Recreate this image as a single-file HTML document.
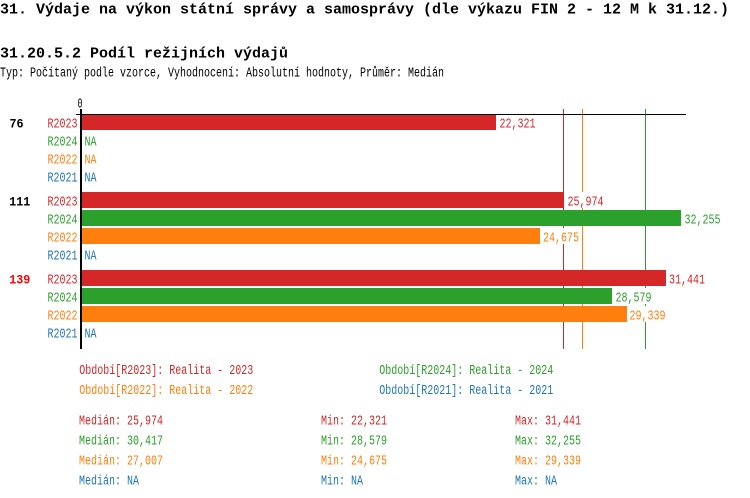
<!DOCTYPE html>
<html><head><meta charset="utf-8"><style>
html,body{margin:0;padding:0;background:#fff;}
svg{display:block;}
text{font-family:"Liberation Mono","DejaVu Sans Mono",monospace;}
.s{font-size:13.5px;}
.b{font-size:15px;font-weight:bold;}
.g{font-size:13px;font-weight:bold;}
</style></head><body>
<svg width="750" height="498" viewBox="0 0 750 498" xmlns="http://www.w3.org/2000/svg">
<text class="b" x="0" y="13.5" textLength="729" lengthAdjust="spacingAndGlyphs">31. Výdaje na výkon státní správy a samosprávy (dle výkazu FIN 2 - 12 M k 31.12.)</text>
<text class="b" x="0" y="57.3" textLength="288" lengthAdjust="spacingAndGlyphs">31.20.5.2 Podíl režijních výdajů</text>
<text class="s" x="0" y="76.3" textLength="444" lengthAdjust="spacingAndGlyphs">Typ: Počítaný podle vzorce, Vyhodnocení: Absolutní hodnoty, Průměr: Medián</text>

<!-- median lines (behind bars) -->
<rect x="563" y="109" width="1" height="240" fill="#d62728"/>
<rect x="582" y="109" width="1" height="240" fill="#ff7f0e"/>
<rect x="645" y="109" width="1" height="240" fill="#2ca02c"/>

<!-- bars -->
<rect x="80" y="114" width="416" height="16" fill="#d62728"/>
<rect x="80" y="192" width="484" height="16" fill="#d62728"/>
<rect x="80" y="210" width="601" height="16" fill="#2ca02c"/>
<rect x="80" y="228" width="460" height="16" fill="#ff7f0e"/>
<rect x="80" y="270" width="586" height="16" fill="#d62728"/>
<rect x="80" y="288" width="532" height="16" fill="#2ca02c"/>
<rect x="80" y="306" width="547" height="16" fill="#ff7f0e"/>

<!-- axes -->
<rect x="76" y="114" width="610" height="1" fill="#000"/>
<rect x="80" y="109" width="2" height="240" fill="#000"/>
<text class="s" x="77.5" y="107.3" textLength="5" lengthAdjust="spacingAndGlyphs">0</text>

<!-- group labels -->
<text class="g" x="9.5" y="127.5" textLength="14" lengthAdjust="spacingAndGlyphs" fill="#000">76</text>
<text class="g" x="9.3" y="205.7" textLength="21" lengthAdjust="spacingAndGlyphs" fill="#000">111</text>
<text class="g" x="9.3" y="283.7" textLength="21" lengthAdjust="spacingAndGlyphs" fill="#ff0000">139</text>

<!-- row labels -->
<text class="s" x="47.5" y="127.5" textLength="30" lengthAdjust="spacingAndGlyphs" fill="#d62728">R2023</text>
<text class="s" x="47.5" y="145.5" textLength="30" lengthAdjust="spacingAndGlyphs" fill="#2ca02c">R2024</text>
<text class="s" x="47.5" y="163.5" textLength="30" lengthAdjust="spacingAndGlyphs" fill="#ff7f0e">R2022</text>
<text class="s" x="47.5" y="181.5" textLength="30" lengthAdjust="spacingAndGlyphs" fill="#1f77b4">R2021</text>
<text class="s" x="47.5" y="205.7" textLength="30" lengthAdjust="spacingAndGlyphs" fill="#d62728">R2023</text>
<text class="s" x="47.5" y="223.7" textLength="30" lengthAdjust="spacingAndGlyphs" fill="#2ca02c">R2024</text>
<text class="s" x="47.5" y="241.7" textLength="30" lengthAdjust="spacingAndGlyphs" fill="#ff7f0e">R2022</text>
<text class="s" x="47.5" y="259.7" textLength="30" lengthAdjust="spacingAndGlyphs" fill="#1f77b4">R2021</text>
<text class="s" x="47.5" y="283.7" textLength="30" lengthAdjust="spacingAndGlyphs" fill="#d62728">R2023</text>
<text class="s" x="47.5" y="301.7" textLength="30" lengthAdjust="spacingAndGlyphs" fill="#2ca02c">R2024</text>
<text class="s" x="47.5" y="319.7" textLength="30" lengthAdjust="spacingAndGlyphs" fill="#ff7f0e">R2022</text>
<text class="s" x="47.5" y="337.7" textLength="30" lengthAdjust="spacingAndGlyphs" fill="#1f77b4">R2021</text>

<!-- NA labels -->
<text class="s" x="84.5" y="145.5" textLength="12" lengthAdjust="spacingAndGlyphs" fill="#2ca02c">NA</text>
<text class="s" x="84.5" y="163.5" textLength="12" lengthAdjust="spacingAndGlyphs" fill="#ff7f0e">NA</text>
<text class="s" x="84.5" y="181.5" textLength="12" lengthAdjust="spacingAndGlyphs" fill="#1f77b4">NA</text>
<text class="s" x="84.5" y="259.7" textLength="12" lengthAdjust="spacingAndGlyphs" fill="#1f77b4">NA</text>
<text class="s" x="84.5" y="337.7" textLength="12" lengthAdjust="spacingAndGlyphs" fill="#1f77b4">NA</text>

<!-- value label backgrounds -->
<rect x="498" y="115" width="39" height="15" fill="#fff"/>
<rect x="566" y="192" width="39" height="16" fill="#fff"/>
<rect x="683" y="210" width="39" height="16" fill="#fff"/>
<rect x="541" y="228" width="40" height="16" fill="#fff"/>
<rect x="667" y="270" width="39" height="16" fill="#fff"/>
<rect x="614" y="288" width="39" height="16" fill="#fff"/>
<rect x="628" y="306" width="39" height="16" fill="#fff"/>

<!-- value labels -->
<text class="s" x="499.5" y="127.5" textLength="36" lengthAdjust="spacingAndGlyphs" fill="#d62728">22,321</text>
<text class="s" x="567.5" y="205.7" textLength="36" lengthAdjust="spacingAndGlyphs" fill="#d62728">25,974</text>
<text class="s" x="684.5" y="223.7" textLength="36" lengthAdjust="spacingAndGlyphs" fill="#2ca02c">32,255</text>
<text class="s" x="543" y="241.7" textLength="36" lengthAdjust="spacingAndGlyphs" fill="#ff7f0e">24,675</text>
<text class="s" x="669" y="283.7" textLength="36" lengthAdjust="spacingAndGlyphs" fill="#d62728">31,441</text>
<text class="s" x="615.5" y="301.7" textLength="36" lengthAdjust="spacingAndGlyphs" fill="#2ca02c">28,579</text>
<text class="s" x="629.5" y="319.7" textLength="36" lengthAdjust="spacingAndGlyphs" fill="#ff7f0e">29,339</text>

<!-- legend -->
<text class="s" x="79.3" y="374" textLength="174" lengthAdjust="spacingAndGlyphs" fill="#d62728">Období[R2023]: Realita - 2023</text>
<text class="s" x="379.3" y="374" textLength="174" lengthAdjust="spacingAndGlyphs" fill="#2ca02c">Období[R2024]: Realita - 2024</text>
<text class="s" x="79.3" y="393.8" textLength="174" lengthAdjust="spacingAndGlyphs" fill="#ff7f0e">Období[R2022]: Realita - 2022</text>
<text class="s" x="379.3" y="393.8" textLength="174" lengthAdjust="spacingAndGlyphs" fill="#1f77b4">Období[R2021]: Realita - 2021</text>

<!-- stats -->
<text class="s" x="79" y="424.3" textLength="84" lengthAdjust="spacingAndGlyphs" fill="#d62728">Medián: 25,974</text>
<text class="s" x="79" y="444.3" textLength="84" lengthAdjust="spacingAndGlyphs" fill="#2ca02c">Medián: 30,417</text>
<text class="s" x="79" y="464.3" textLength="84" lengthAdjust="spacingAndGlyphs" fill="#ff7f0e">Medián: 27,007</text>
<text class="s" x="79" y="484.3" textLength="60" lengthAdjust="spacingAndGlyphs" fill="#1f77b4">Medián: NA</text>

<text class="s" x="321" y="424.3" textLength="66" lengthAdjust="spacingAndGlyphs" fill="#d62728">Min: 22,321</text>
<text class="s" x="321" y="444.3" textLength="66" lengthAdjust="spacingAndGlyphs" fill="#2ca02c">Min: 28,579</text>
<text class="s" x="321" y="464.3" textLength="66" lengthAdjust="spacingAndGlyphs" fill="#ff7f0e">Min: 24,675</text>
<text class="s" x="321" y="484.3" textLength="42" lengthAdjust="spacingAndGlyphs" fill="#1f77b4">Min: NA</text>

<text class="s" x="515" y="424.3" textLength="66" lengthAdjust="spacingAndGlyphs" fill="#d62728">Max: 31,441</text>
<text class="s" x="515" y="444.3" textLength="66" lengthAdjust="spacingAndGlyphs" fill="#2ca02c">Max: 32,255</text>
<text class="s" x="515" y="464.3" textLength="66" lengthAdjust="spacingAndGlyphs" fill="#ff7f0e">Max: 29,339</text>
<text class="s" x="515" y="484.3" textLength="42" lengthAdjust="spacingAndGlyphs" fill="#1f77b4">Max: NA</text>
</svg>
</body></html>
